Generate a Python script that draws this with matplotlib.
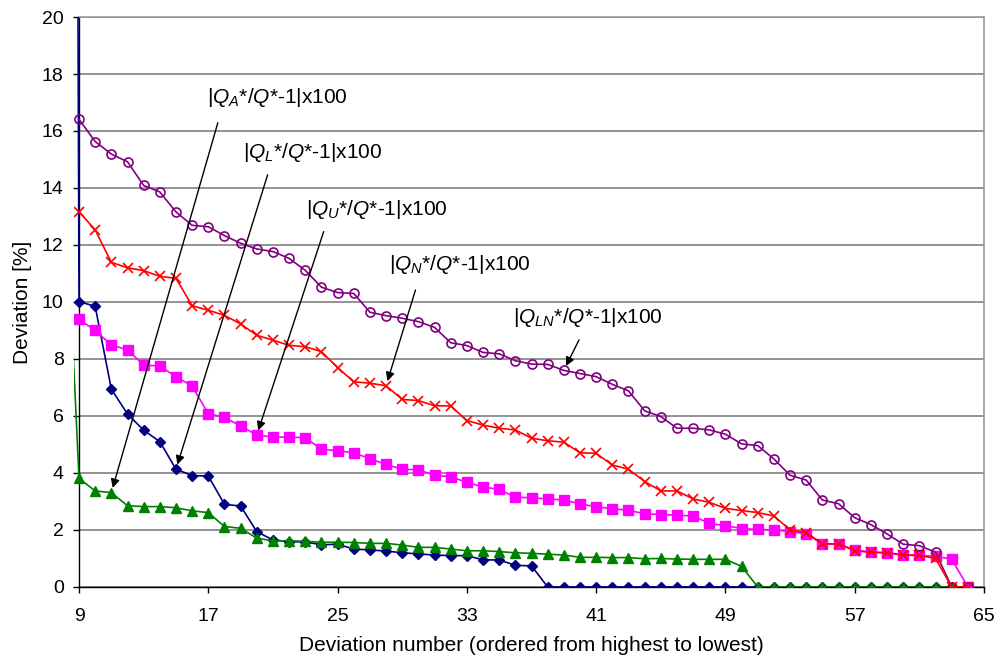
import matplotlib
matplotlib.use("Agg")
import matplotlib.pyplot as plt
from matplotlib.patches import Rectangle
import numpy as np

plt.rcParams['font.family'] = ['Liberation Sans', 'DejaVu Sans']
plt.rcParams['mathtext.fontset'] = 'custom'
plt.rcParams['mathtext.rm'] = 'Liberation Sans'
plt.rcParams['mathtext.it'] = 'Liberation Sans:italic'

# ---------------- data ----------------
x = list(range(9, 65))  # deviation numbers 9..64

q_ln = [16.41, 15.63, 15.19, 14.92, 14.09, 13.86, 13.16, 12.69,
        12.64, 12.33, 12.06, 11.86, 11.77, 11.53, 11.11, 10.52,
        10.33, 10.30, 9.64, 9.52, 9.43, 9.31, 9.11, 8.57,
        8.47, 8.23, 8.18, 7.94, 7.82, 7.81, 7.60, 7.49,
        7.38, 7.11, 6.88, 6.18, 5.98, 5.57, 5.57, 5.51,
        5.36, 5.02, 4.96, 4.49, 3.92, 3.75, 3.05, 2.92,
        2.43, 2.19, 1.86, 1.50, 1.45, 1.22, 0.0, 0.0]

q_n = [13.17, 12.53, 11.39, 11.20, 11.10, 10.90, 10.83, 9.87,
       9.71, 9.53, 9.23, 8.83, 8.66, 8.48, 8.43, 8.26,
       7.70, 7.20, 7.15, 7.06, 6.58, 6.54, 6.36, 6.35,
       5.84, 5.68, 5.57, 5.51, 5.22, 5.13, 5.08, 4.71,
       4.69, 4.28, 4.13, 3.70, 3.37, 3.37, 3.09, 2.97,
       2.76, 2.68, 2.61, 2.49, 2.00, 1.91, 1.51, 1.51,
       1.27, 1.22, 1.20, 1.12, 1.11, 1.00, 0.0, 0.0]

q_u = [9.39, 9.00, 8.49, 8.32, 7.79, 7.75, 7.38, 7.05,
       6.08, 5.95, 5.65, 5.33, 5.26, 5.26, 5.24, 4.83,
       4.78, 4.71, 4.50, 4.30, 4.13, 4.11, 3.92, 3.87,
       3.67, 3.51, 3.42, 3.15, 3.13, 3.09, 3.05, 2.92,
       2.81, 2.75, 2.69, 2.57, 2.54, 2.52, 2.49, 2.23,
       2.15, 2.05, 2.02, 2.00, 1.94, 1.86, 1.51, 1.51,
       1.30, 1.22, 1.20, 1.12, 1.11, 1.07, 0.98, 0.0]

q_l = [10.01, 9.85, 6.94, 6.07, 5.50, 5.10, 4.13, 3.91,
       3.89, 2.90, 2.84, 1.94, 1.65, 1.59, 1.58, 1.48,
       1.50, 1.33, 1.30, 1.26, 1.20, 1.16, 1.12, 1.10,
       1.10, 0.95, 0.95, 0.76, 0.74, 0.0, 0.0, 0.0,
       0.0, 0.0, 0.0, 0.0, 0.0, 0.0, 0.0, 0.0,
       0.0, 0.0, 0.0, 0.0, 0.0, 0.0, 0.0, 0.0,
       0.0, 0.0, 0.0, 0.0, 0.0, 0.0, 0.0, 0.0]

q_a = [3.81, 3.37, 3.31, 2.85, 2.82, 2.82, 2.78, 2.67,
       2.61, 2.12, 2.06, 1.71, 1.62, 1.62, 1.60, 1.57,
       1.57, 1.56, 1.53, 1.53, 1.47, 1.39, 1.39, 1.33,
       1.27, 1.27, 1.24, 1.20, 1.18, 1.15, 1.12, 1.04,
       1.04, 1.03, 1.03, 0.99, 1.00, 0.98, 0.97, 0.97,
       0.97, 0.72, 0.0, 0.0, 0.0, 0.0, 0.0, 0.0,
       0.0, 0.0, 0.0, 0.0, 0.0, 0.0, 0.0, 0.0]

# preceding point (deviation number 8), mostly off-chart
x_prev = 8
q_l_prev = 170.0
q_a_prev = 15.9

xticks = [9, 17, 25, 33, 41, 49, 57, 65]
yticks = [0, 2, 4, 6, 8, 10, 12, 14, 16, 18, 20]

labels = {
    'A': r'|$Q_A$*/$Q$*-1|x100',
    'L': r'|$Q_L$*/$Q$*-1|x100',
    'U': r'|$Q_U$*/$Q$*-1|x100',
    'N': r'|$Q_N$*/$Q$*-1|x100',
    'LN': r'|$Q_{LN}$*/$Q$*-1|x100',
}

# ---------------- figure ----------------
fig = plt.figure(figsize=(9.99, 6.67), dpi=100)
ax = fig.add_axes([0.0791, 0.12, 0.9059, 0.8545])

clip = Rectangle((-0.005, 0), 1.005, 1, transform=ax.transAxes)

def series(xs, ys, **kw):
    ln, = ax.plot(xs, ys, zorder=3, **kw)
    ln.set_clip_path(clip)
    return ln

series([x_prev] + x, [q_l_prev] + q_l, color='#000080', lw=1.2, marker='D', ms=5.5,
       mfc='#000080', mec='#000080')
series([x_prev] + x, [q_a_prev] + q_a, color='#008000', lw=1.2, marker='^', ms=7.5,
       mfc='#008000', mec='#008000')
series(x, q_u, color='#FF00FF', lw=1.2, marker='s', ms=7,
       mfc='#FF00FF', mec='#FF00FF')
series(x, q_ln, color='#800080', lw=1.2, marker='o', ms=6.5,
       mfc='none', mec='#800080', mew=1.2)
series(x, q_n, color='#FF0000', lw=1.2, marker='x', ms=7,
       mec='#FF0000', mew=1.2)

ax.set_xlim(9, 65)
ax.set_ylim(0, 20)
ax.set_xticks(xticks)
ax.set_yticks(yticks)
ax.grid(axis='y', color='#808080', lw=1.2)
ax.set_axisbelow(True)

for s in ['top', 'right']:
    ax.spines[s].set_color('#999999')
    ax.spines[s].set_linewidth(1.2)
for s in ['left', 'bottom']:
    ax.spines[s].set_color('black')
    ax.spines[s].set_linewidth(1.0)

ax.tick_params(axis='x', direction='out', length=4, width=1, labelsize=14, pad=11)
ax.tick_params(axis='y', direction='out', length=4, width=1, labelsize=14, pad=7)

ax.set_xlabel('Deviation number (ordered from highest to lowest)', fontsize=15, labelpad=8)
ax.set_ylabel('Deviation [%]', fontsize=15, labelpad=7)

# ---------------- annotations ----------------
ann = [
    ('A', (16.93, 17.19), (17.59, 16.29), (11, q_a[11 - 9])),
    ('L', (19.16, 15.23), (20.67, 14.46), (15, q_l[15 - 9])),
    ('U', (23.06, 13.23), (24.14, 12.47), (20, q_u[20 - 9])),
    ('N', (28.21, 11.30), (29.82, 10.42), (28, q_n[28 - 9])),
    ('LN', (35.83, 9.44), (39.94, 8.67), (39, q_ln[39 - 9])),
]
for key, tpos, astart, tip in ann:
    ax.text(tpos[0], tpos[1], labels[key], fontsize=15, ha='left', va='center', zorder=5)
    ax.annotate('', xy=tip, xytext=astart,
                arrowprops=dict(arrowstyle='-|>', color='black', lw=1.0,
                                mutation_scale=13, shrinkA=0, shrinkB=3.5),
                zorder=6)

fig.savefig('out.png', dpi=100)
